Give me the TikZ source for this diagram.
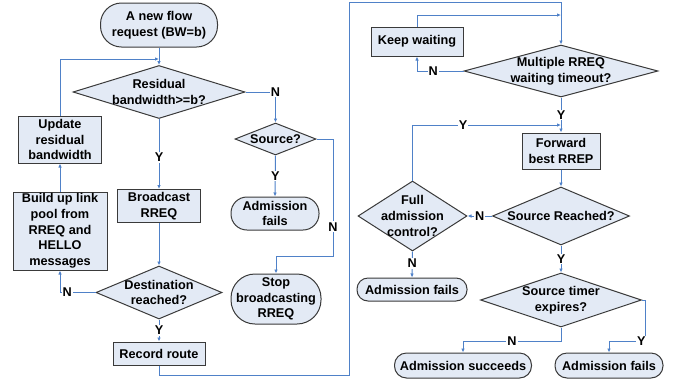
\documentclass[tikz,border=0pt]{standalone}
\usepackage{fontspec}
\setmainfont{Liberation Sans}
\usetikzlibrary{shapes.geometric,arrows.meta}
\definecolor{fillc}{HTML}{E3EAF5}
\definecolor{bordc}{HTML}{3A3A3A}
\definecolor{linec}{HTML}{4F81C8}
\newcommand{\txf}{\fontsize{12.7}{15.7}\selectfont\bfseries}
\tikzset{
  box/.style={draw=bordc, fill=fillc, line width=1pt, inner sep=0pt, align=center, font=\txf},
  term/.style={box, rounded corners=#1},
  dia/.style={draw=bordc, fill=fillc, line width=1pt, diamond, inner sep=0pt},
  dtxt/.style={font=\txf, align=center, inner sep=0pt},
  conn/.style={draw=linec, line width=1pt, -{Latex[length=4pt,width=3.5pt]}},
  yn/.style={fill=white, inner sep=1pt, font=\txf}
}
\begin{document}
\begin{tikzpicture}[x=1pt,y=-1pt]
\useasboundingbox (0,0) rectangle (686,384);
% left column
\node[term=21pt, minimum width=117pt, minimum height=44pt] (start) at (159,25) {A new flow\\request (BW=b)};
\node[dia, minimum width=172pt, minimum height=53pt, label={[dtxt]center:Residual\\bandwidth>=b?}] (d1) at (159,92) {};
\node[box, minimum width=83pt, minimum height=47pt] (upd) at (60,139.5) {Update\\residual\\bandwidth};
\node[box, minimum width=94pt, minimum height=78pt] (build) at (60,231) {Build up link\\pool from\\RREQ and\\HELLO\\messages};
\node[box, minimum width=83pt, minimum height=33pt] (bcast) at (159,206) {Broadcast\\RREQ};
\node[dia, minimum width=126pt, minimum height=53pt, label={[dtxt]center:Destination\\reached?}] (d2) at (159,292.5) {};
\node[box, minimum width=92pt, minimum height=23pt] (rec) at (159,353.5) {Record route};
\node[dia, minimum width=81pt, minimum height=32pt, label={[dtxt]center:Source?}] (src) at (275.5,139) {};
\node[term=16pt, minimum width=88pt, minimum height=33pt] (adm1) at (275,213.5) {Admission\\fails};
\node[term=24pt, minimum width=90pt, minimum height=50pt] (stop) at (276,299) {Stop\\broadcasting\\RREQ};
% right column
\node[box, minimum width=92pt, minimum height=29pt] (keep) at (417,41.5) {Keep waiting};
\node[dia, minimum width=194pt, minimum height=52pt, label={[dtxt]center:Multiple RREQ\\waiting timeout?}] (d3) at (561,71) {};
\node[box, minimum width=78pt, minimum height=36pt] (fwd) at (561,151) {Forward\\best RREP};
\node[dia, minimum width=137pt, minimum height=58pt, label={[dtxt]center:Source Reached?}] (d4) at (561,216) {};
\node[dia, minimum width=109pt, minimum height=70pt, label={[dtxt]center:Full\\admission\\control?}] (full) at (412.5,216) {};
\node[term=11pt, minimum width=110pt, minimum height=23pt] (adm2) at (412,289.5) {Admission fails};
\node[dia, minimum width=161pt, minimum height=54pt, label={[dtxt]center:Source timer\\expires?}] (d5) at (561,300) {};
\node[term=12pt, minimum width=137pt, minimum height=25pt] (succ) at (463,365.5) {Admission succeeds};
\node[term=12pt, minimum width=108pt, minimum height=25pt] (adm3) at (609,365.5) {Admission fails};
% junction points
\coordinate (j1) at (159,59);
\coordinate (j2) at (561,15);
\coordinate (j3) at (561,125);
% connectors
\draw[conn] (start) -- (d1.north);
\draw[conn] (upd.north) |- (j1);
\draw[conn] (d1.east) -| node[yn, pos=0.5] {N} (src.north);
\draw[conn] (d1.south) -- node[yn, pos=0.55] {Y} (bcast.north);
\draw[conn] (src.south) -- node[yn, pos=0.5] {Y} (adm1.north);
\draw[conn] (src.east) -- (333,139) -- node[yn, pos=0.75] {N} (333,256) -| (stop.north);
\draw[conn] (bcast.south) -- (d2.north);
\draw[conn] (build.north) -- (upd.south);
\draw[conn] (d2.west) -- node[yn, pos=0.8] {N} (60,292.5) -- (build.south);
\draw[conn] (d2.south) -- node[yn, pos=0.5] {Y} (rec.north);
\draw[conn] (rec.south) -- (159,375) -- (349,375) -- (349,2) -- (561,2) -- (d3.north);
\draw[conn] (keep.north) |- (j2);
\draw[conn] (d3.west) -- node[yn, pos=0.65] {N} (417,71) -- (keep.south);
\draw[conn] (d3.south) -- node[yn, pos=0.5] {Y} (fwd.north);
\draw[conn] (full.north) |- node[yn, pos=0.67] {Y} (j3);
\draw[conn] (fwd.south) -- (d4.north);
\draw[conn] (d4.west) -- node[yn, pos=0.5] {N} (full.east);
\draw[conn] (full.south) -- node[yn, pos=0.45] {N} (adm2.north);
\draw[conn] (d4.south) -- node[yn, pos=0.5] {Y} (d5.north);
\draw[conn] (d5.south) -- (561,341) -- node[yn, pos=0.5] {N} (463,341) -- (succ.north);
\draw[conn] (d5.east) -- (645,300) -- (645,341) -- node[yn, pos=0.1] {Y} (609,341) -- (adm3.north);
\end{tikzpicture}
\end{document}
